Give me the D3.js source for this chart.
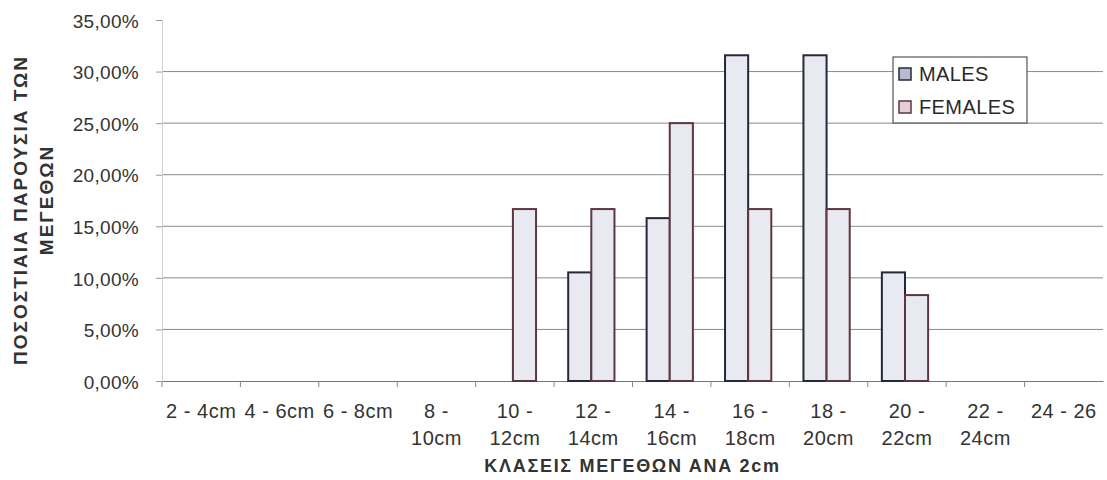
<!DOCTYPE html>
<html>
<head>
<meta charset="utf-8">
<script src="https://cdnjs.cloudflare.com/ajax/libs/d3/7.8.5/d3.min.js"></script>
<style>
  body { margin: 0; background: #fff; }
  svg { display: block; }
  .tick text { font-family: "Liberation Sans", Arial, sans-serif; fill: #333; }
</style>
</head>
<body>
<svg width="1107" height="480"></svg>
<script>
// categories (size classes) and percentages
var categories = ["2 - 4cm", "4 - 6cm", "6 - 8cm", "8 - 10cm", "10 - 12cm", "12 - 14cm",
                  "14 - 16cm", "16 - 18cm", "18 - 20cm", "20 - 22cm", "22 - 24cm", "24 - 26"];
var males   = [0, 0, 0, 0, 0, 0.1053, 0.1579, 0.3158, 0.3158, 0.1053, 0, 0];
var females = [0, 0, 0, 0, 0.1667, 0.1667, 0.25, 0.1667, 0.1667, 0.0833, 0, 0];
var yTicks = [0, 0.05, 0.10, 0.15, 0.20, 0.25, 0.30, 0.35];
var seriesNames = ["MALES", "FEMALES"];

var svg = d3.select("svg"),
    margin = {top: 20, right: 4, bottom: 99, left: 162},
    width = 1107 - margin.left - margin.right,
    height = 480 - margin.top - margin.bottom;

var g = svg.append("g")
  .attr("transform", "translate(" + margin.left + "," + margin.top + ")");

var x0 = d3.scaleBand().domain(categories).range([0, width]).padding(0);
var bw = x0.bandwidth();
var x1 = d3.scaleBand().domain(seriesNames).range([bw * 0.18, bw * 0.77]).padding(0);
var y = d3.scaleLinear().domain([0, 0.35]).range([height, 0]);

var pct = function(d) { return d3.format(".2f")(d * 100).replace(".", ",") + "%"; };

// gridlines
g.append("g")
  .selectAll("line")
  .data(yTicks.filter(function(d) { return d > 0 && d < 0.35; }))
  .enter().append("line")
  .attr("x1", 0).attr("x2", width)
  .attr("y1", function(d) { return y(d); })
  .attr("y2", function(d) { return y(d); })
  .attr("stroke", "#8a8a8a")
  .attr("stroke-width", 1);

// y axis
var yAxis = g.append("g")
  .call(d3.axisLeft(y).tickValues(yTicks).tickFormat(pct).tickSize(6).tickPadding(17));
yAxis.select(".domain").attr("stroke", "#d0d0d0");
yAxis.selectAll(".tick line").attr("stroke", "#9a9a9a");
yAxis.selectAll(".tick text").attr("font-size", 19).attr("letter-spacing", "0.3px").attr("dy", "0.38em");

// x axis
var xAxis = g.append("g")
  .attr("transform", "translate(0," + height + ")")
  .call(d3.axisBottom(x0).tickSize(0).tickPadding(0));
xAxis.select(".domain").attr("stroke", "#777");
xAxis.selectAll(".tick text").remove();
xAxis.selectAll(".tick").each(function(d) {
  var t = d3.select(this).append("text")
    .attr("text-anchor", "middle")
    .attr("font-size", 20)
    .attr("letter-spacing", "0.5px")
    .attr("fill", "#333");
  if (d.length > 7) {
    var parts = d.split(" - ");
    t.append("tspan").attr("x", 0).attr("y", 37).text(parts[0] + " -");
    t.append("tspan").attr("x", 0).attr("y", 64).text(parts[1]);
  } else {
    t.append("tspan").attr("x", 0).attr("y", 37).text(d);
  }
});
// separator ticks between categories
g.append("g")
  .selectAll("line")
  .data(categories)
  .enter().append("line")
  .attr("x1", function(d) { return x0(d); })
  .attr("x2", function(d) { return x0(d); })
  .attr("y1", height).attr("y2", height + 6)
  .attr("stroke", "#888");

// bars
var series = [
  {name: "MALES", values: males, stroke: "#26283a"},
  {name: "FEMALES", values: females, stroke: "#5e3640"}
];
series.forEach(function(s) {
  g.append("g")
    .selectAll("rect")
    .data(categories.map(function(c, i) { return {c: c, v: s.values[i]}; })
      .filter(function(d) { return d.v > 0; }))
    .enter().append("rect")
    .attr("x", function(d) { return x0(d.c) + x1(s.name); })
    .attr("y", function(d) { return y(d.v); })
    .attr("width", x1.bandwidth())
    .attr("height", function(d) { return height - y(d.v); })
    .attr("fill", "#e9e9f1")
    .attr("stroke", s.stroke)
    .attr("stroke-width", 2);
});

// legend
var legend = svg.append("g").attr("transform", "translate(893,57)");
legend.append("rect")
  .attr("width", 134).attr("height", 66)
  .attr("fill", "#fff").attr("stroke", "#555").attr("stroke-width", 1.2);
var swatch = [{fill: "#b9bace", stroke: "#26283a"}, {fill: "#e3cfd9", stroke: "#5e3640"}];
seriesNames.forEach(function(n, i) {
  var row = legend.append("g").attr("transform", "translate(6," + (11 + i * 33) + ")");
  row.append("rect").attr("width", 12).attr("height", 12)
    .attr("fill", swatch[i].fill).attr("stroke", swatch[i].stroke).attr("stroke-width", 1.5);
  row.append("text").attr("x", 20).attr("y", 13)
    .attr("font-family", "Liberation Sans, Arial, sans-serif")
    .attr("font-size", 20).attr("letter-spacing", "0.4px").attr("fill", "#2a2a2a")
    .text(n);
});

// axis titles
svg.append("text")
  .attr("x", margin.left + width / 2).attr("y", 472)
  .attr("text-anchor", "middle")
  .attr("font-family", "Liberation Sans, Arial, sans-serif")
  .attr("font-weight", "bold").attr("font-size", 18).attr("letter-spacing", "1.7px")
  .attr("fill", "#333")
  .text("ΚΛΑΣΕΙΣ ΜΕΓΕΘΩΝ ΑΝΑ 2cm");

var yt = svg.append("text")
  .attr("transform", "translate(27,210) rotate(-90)")
  .attr("text-anchor", "middle")
  .attr("font-family", "Liberation Sans, Arial, sans-serif")
  .attr("font-weight", "bold").attr("font-size", 19).attr("letter-spacing", "2px")
  .attr("fill", "#333");
yt.append("tspan").attr("x", 0).attr("y", 0).text("ΠΟΣΟΣΤΙΑΙΑ ΠΑΡΟΥΣΙΑ ΤΩΝ");
yt.append("tspan").attr("x", 10).attr("y", 26).text("ΜΕΓΕΘΩΝ");
</script>
</body>
</html>
